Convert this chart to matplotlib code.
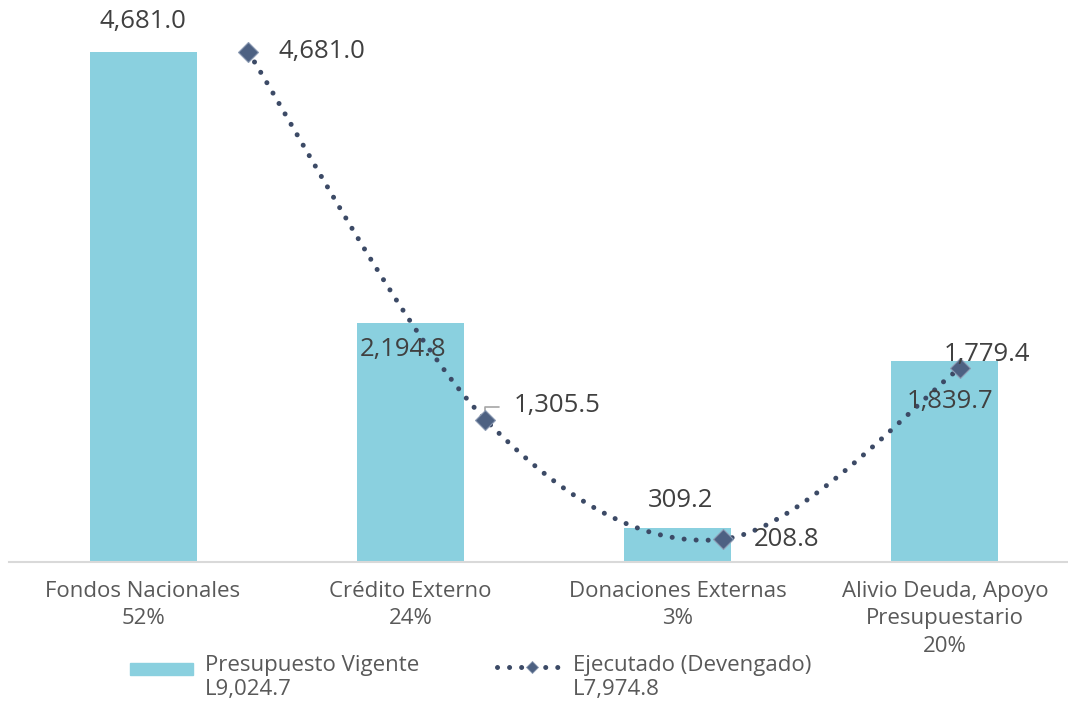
import numpy as np
import matplotlib
matplotlib.use('Agg')
import matplotlib.pyplot as plt
from matplotlib.lines import Line2D
from matplotlib.patches import Rectangle

categories = ['Fondos Nacionales\n52%', 'Crédito Externo\n24%',
              'Donaciones Externas\n3%', 'Alivio Deuda, Apoyo\nPresupuestario\n20%']
vigente = [4681.0, 2194.8, 309.2, 1839.7]
ejecutado = [4681.0, 1305.5, 208.8, 1779.4]
vigente_total = 'L9,024.7'
ejecutado_total = 'L7,974.8'

BAR = '#8AD0DF'
LINE = '#3C4A66'
MARK = '#4D6182'
TXT = '#404040'
AX = '#595959'

plt.rcParams['font.family'] = ['Open Sans', 'DejaVu Sans']


def fmt(v):
    return f'{v:,.1f}'


def catmull(xs, ys, n=60):
    # smooth curve like spreadsheet "smoothed line", built in pixel-ish space
    sx, sy = 267.3, 0.109
    P = np.column_stack([np.array(xs) * sx, np.array(ys) * sy])
    P = np.vstack([P[0], P, P[-1]])
    out = []
    for i in range(1, len(P) - 2):
        p0, p1, p2, p3 = P[i - 1], P[i], P[i + 1], P[i + 2]
        t = np.linspace(0, 1, n)[:, None]
        c = 0.5 * ((2 * p1) + (-p0 + p2) * t + (2 * p0 - 5 * p1 + 4 * p2 - p3) * t ** 2
                   + (-p0 + 3 * p1 - 3 * p2 + p3) * t ** 3)
        out.append(c if i == 1 else c[1:])
    c = np.vstack(out)
    return c[:, 0] / sx, c[:, 1] / sy


fig = plt.figure(figsize=(10.68, 7.01), dpi=100)
ax = fig.add_axes([9.4 / 1068, 139 / 701, 1069.2 / 1068, 545 / 701])

x = np.arange(len(categories))
ax.bar(x, vigente, width=0.40, color=BAR, zorder=1)

# line series sits on its own category spacing
lx = 0.393 + 0.888 * x
cx, cy = catmull(lx, ejecutado)
dots = (0, (0.01, 2.4))
ax.plot(cx, cy, color=LINE, lw=3.6, linestyle=dots,
        dash_capstyle='round', zorder=3)
ax.plot(lx, ejecutado, linestyle='none', marker='D', ms=10, color=MARK,
        mec='#8C9BB3', mew=0.8, zorder=4)

ax.set_xlim(-0.5, 3.5)
ax.set_ylim(0, 5000)
ax.set_yticks([])
ax.set_xticks(x)
ax.set_xticklabels(categories, fontsize=16, color=AX, linespacing=1.4)
ax.tick_params(axis='x', length=0, pad=13.5)
for s in ['top', 'right', 'left']:
    ax.spines[s].set_visible(False)
ax.spines['bottom'].set_color('#D9D9D9')
ax.spines['bottom'].set_linewidth(1.5)

# bar labels (offsets in points, as placed in the original)
bar_off = [(0, 22), (-5, -19), (2, 20), (4, -29)]
for i, v in enumerate(vigente):
    ax.annotate(fmt(v), (x[i], v), xytext=bar_off[i], textcoords='offset points',
                ha='center', va='center', fontsize=18.5, color=TXT, zorder=5)

line_off = [(22, 0), (20, 10), (22, 0), (19, 10)]
line_ha = ['left', 'left', 'left', 'center']
for i, v in enumerate(ejecutado):
    ax.annotate(fmt(v), (lx[i], v), xytext=line_off[i], textcoords='offset points',
                ha=line_ha[i], va='center', fontsize=18.5, color=TXT, zorder=5)

# leader line for the 1,305.5 label
ax.annotate('', (lx[1], ejecutado[1]), xytext=(10, 9), textcoords='offset points',
            arrowprops=dict(arrowstyle='-', color='#A6A6A6', lw=1.2,
                            connectionstyle='angle,angleA=0,angleB=90,rad=0',
                            shrinkA=0, shrinkB=4), zorder=2)

# legend, laid out by hand in figure pixels
W, H = 1068, 701
fig.patches.append(Rectangle((130 / W, 1 - 675 / H), 63 / W, 12 / H,
                             transform=fig.transFigure, color=BAR))
fig.text(205 / W, 1 - 666 / H, 'Presupuesto Vigente', fontsize=16, color=AX,
         va='center', ha='left')
fig.text(205 / W, 1 - 690 / H, vigente_total, fontsize=16, color=AX,
         va='center', ha='left')
fig.lines.append(Line2D([497 / W, 562 / W], [1 - 667 / H] * 2, transform=fig.transFigure,
                        color=LINE, lw=3.6, linestyle=dots, dash_capstyle='round'))
fig.lines.append(Line2D([532 / W], [1 - 667 / H], transform=fig.transFigure,
                        marker='D', ms=6, color=MARK, mec='#8C9BB3', mew=0.6))
fig.text(573 / W, 1 - 666 / H, 'Ejecutado (Devengado)', fontsize=16, color=AX,
         va='center', ha='left')
fig.text(573 / W, 1 - 690 / H, ejecutado_total, fontsize=16, color=AX,
         va='center', ha='left')

fig.savefig('out.png', dpi=100)
